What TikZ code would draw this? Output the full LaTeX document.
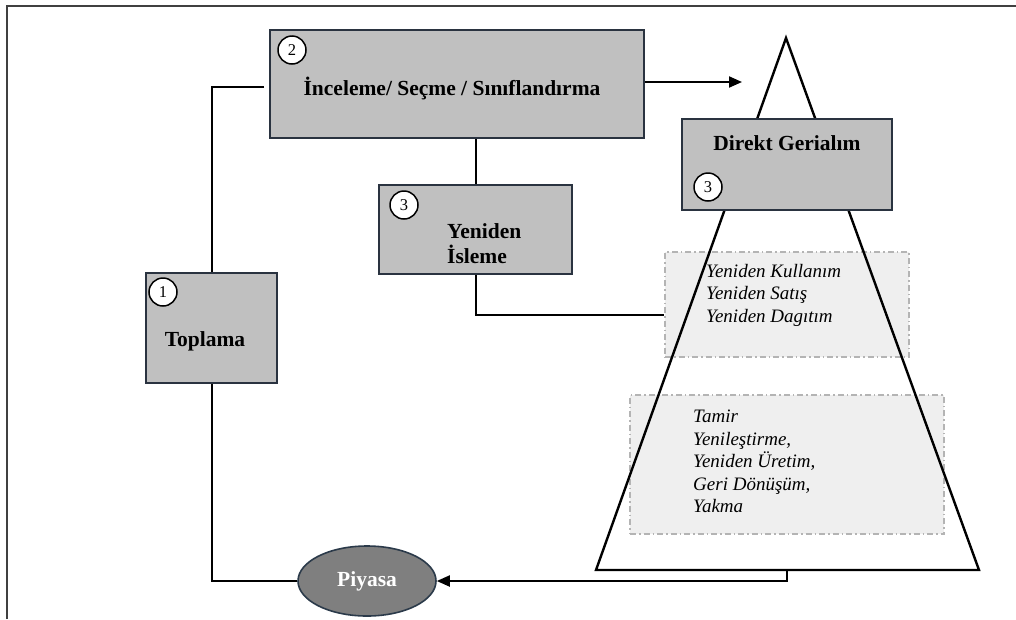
\documentclass[tikz,border=0pt]{standalone}
\usepackage{fontspec}
\setmainfont{Liberation Serif}
\usetikzlibrary{shapes.geometric,arrows.meta,calc}
\definecolor{boxfill}{HTML}{C0C0C0}
\definecolor{boxline}{HTML}{2A3340}
\definecolor{lightfill}{HTML}{EFEFEF}
\definecolor{dashline}{HTML}{B4B4B4}
\definecolor{ellfill}{HTML}{7F7F7F}
\definecolor{ellline}{HTML}{2B3A4A}
\tikzset{
  procbox/.style={draw=boxline, fill=boxfill, line width=2pt, inner sep=0pt},
  listbox/.style={draw=dashline, fill=lightfill, line width=1.2pt, dash pattern=on 6pt off 3pt on 1.5pt off 3pt, inner sep=0pt},
  numcirc/.style={circle, draw=black, line width=1.5pt, fill=white, minimum size=28pt, inner sep=0pt, font=\fontsize{16.5}{16.5}\selectfont},
  boldlabel/.style={inner sep=0pt, font=\fontsize{21.5}{25}\selectfont\bfseries},
  itlabel/.style={inner sep=0pt, align=left, font=\fontsize{19}{22.5}\selectfont\itshape},
  conn/.style={line width=2pt, draw=black},
  tip/.style={-{Triangle[length=13pt,width=11pt]}}
}
\begin{document}
\begin{tikzpicture}[x=1pt,y=-1pt]
\useasboundingbox (0,0) rectangle (1016,619);
% outer frame
\draw[line width=1.6pt, draw=black!75] (7,619) -- (7,6) -- (1016,6);

% light list boxes
\node[listbox, minimum width=244pt, minimum height=105pt] (db1) at (787,304.5) {};
\node[listbox, minimum width=314pt, minimum height=139pt] (db2) at (787,464.5) {};

% pyramid
\coordinate (apex) at (786,38);
\coordinate (bl) at (596,570);
\coordinate (br) at (979,570);
\coordinate (basemid) at (787,570);
\draw[line width=2.4pt, line join=miter] (apex) -- (bl) -- (br) -- cycle;

% list texts
\node[itlabel, anchor=north west] (t1) at (706,264) {Yeniden Kullanım\\Yeniden Satış\\Yeniden Dagıtım};
\node[itlabel, anchor=north west] (t2) at (693,410) {Tamir\\Yenileştirme,\\Yeniden Üretim,\\Geri Dönüşüm,\\Yakma};

% process boxes
\node[procbox, minimum width=374pt, minimum height=108pt] (box2) at (457,84) {};
\node[procbox, minimum width=131pt, minimum height=110pt] (top) at (211.5,328) {};
\node[procbox, minimum width=193pt, minimum height=89pt] (yen) at (475.5,229.5) {};
\node[procbox, minimum width=210pt, minimum height=91pt] (dir) at (787,164.5) {};
\node[ellipse, draw=ellline, fill=ellfill, line width=1.6pt, minimum width=138pt, minimum height=70pt, inner sep=0pt,
      text=white, font=\fontsize{21.5}{24}\selectfont\bfseries] (piy) at (367,581) {Piyasa};

% labels
\node[boldlabel, anchor=base] (l2) at (452,95) {İnceleme/ Seçme / Sınıflandırma};
\node[boldlabel, anchor=base] (l1) at (205,346) {Toplama};
\node[boldlabel, anchor=north west, align=left] (l3) at (447,223) {Yeniden\\İsleme};
\node[boldlabel, anchor=base] (l4) at (787,150) {Direkt Gerialım};

% number circles
\node[numcirc] (c2) at (292,50) {2};
\node[numcirc] (c1) at (163,292) {1};
\node[numcirc] (c3a) at (404,205) {3};
\node[numcirc] (c3b) at (708,187) {3};

% connectors
\coordinate (arrtip) at (742,82);
\draw[conn, tip] (box2.east |- arrtip) -- (arrtip);
\draw[conn] ($(box2.west)+(-5,3)$) -| (top.north);
\draw[conn] (top.south) |- (piy.west);
\draw[conn, tip] (basemid) |- (piy.east);
\draw[conn] (yen.north |- box2.south) -- (yen.north);
\draw[conn] (yen.south) |- ($(db1.west)+(0,10.5)$);
\end{tikzpicture}
\end{document}
